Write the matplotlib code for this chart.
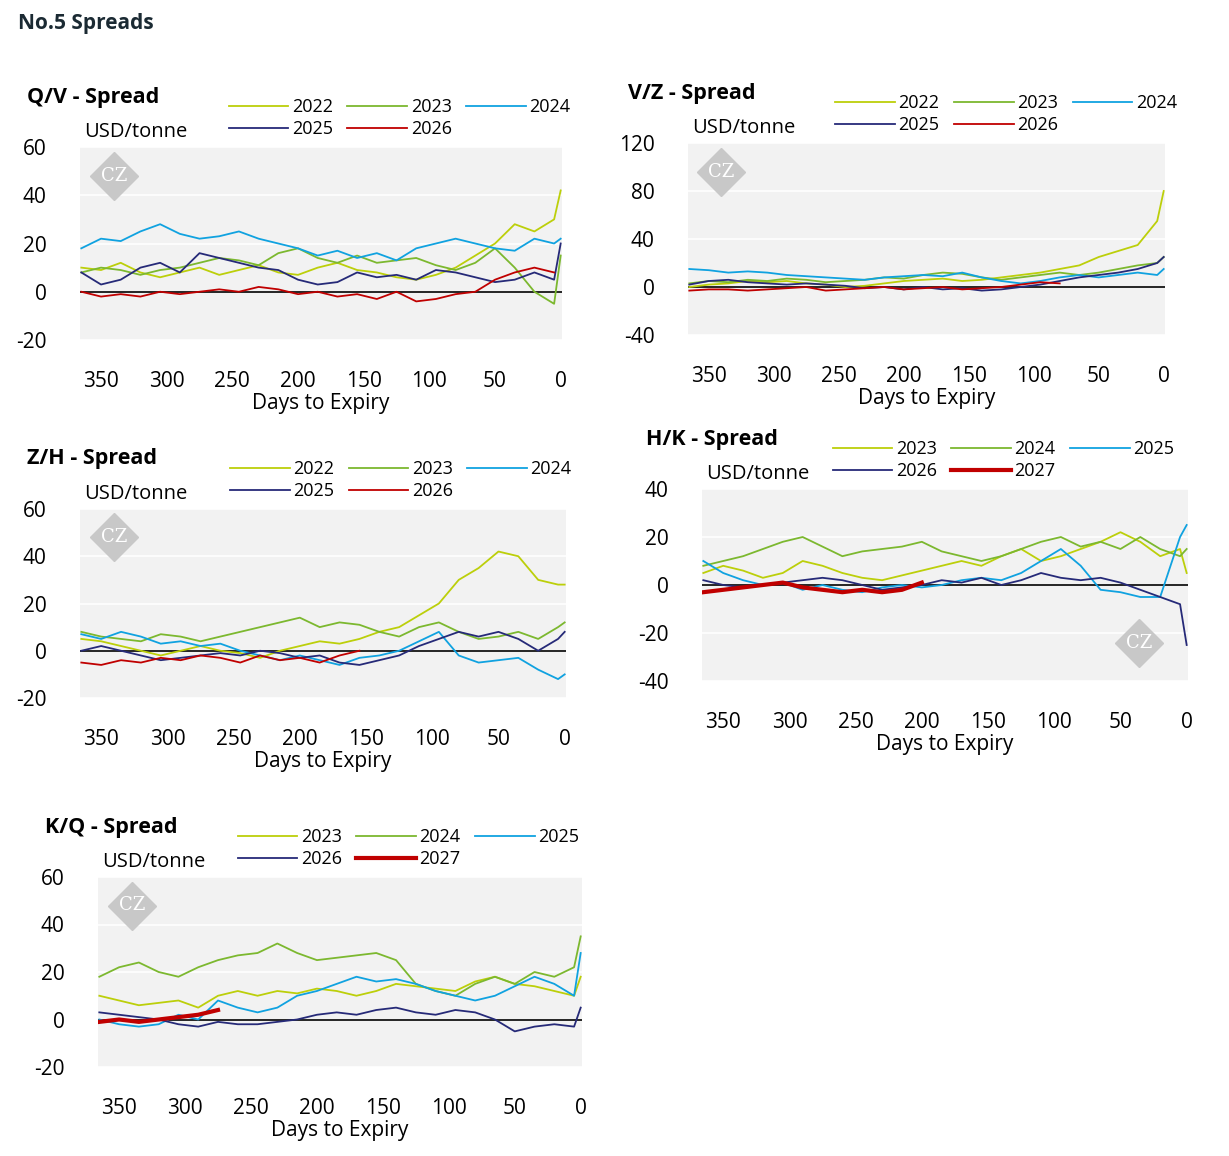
import matplotlib
matplotlib.use("Agg")
from matplotlib import pyplot as plt

plt.rcParams["font.family"] = ["Open Sans", "DejaVu Sans"]
plt.rcParams["axes.unicode_minus"] = False

LIME = "#bccf0a"
GREEN = "#7cb82f"
BLUE = "#10a2e0"
NAVY = "#262a78"
RED = "#c00000"

DAYS = [365, 350, 335, 320, 305, 290, 275, 260, 245, 230, 215, 200, 185,
        170, 155, 140, 125, 110, 95, 80, 65, 50, 35, 20, 5, 0]

# Q/V spread
qv_2022 = [10, 9, 12, 8, 6, 8, 10, 7, 9, 11, 8, 7, 10, 12, 9, 8, 6, 5, 7, 10, 15, 20, 28, 25, 30, 42]
qv_2023 = [8, 10, 9, 7, 9, 10, 12, 14, 13, 11, 16, 18, 14, 12, 15, 12, 13, 14, 11, 9, 12, 18, 10, 0, -5, 15]
qv_2024 = [18, 22, 21, 25, 28, 24, 22, 23, 25, 22, 20, 18, 15, 17, 14, 16, 13, 18, 20, 22, 20, 18, 17, 22, 20, 22]
qv_2025 = [8, 3, 5, 10, 12, 8, 16, 14, 12, 10, 9, 5, 3, 4, 8, 6, 7, 5, 9, 8, 6, 4, 5, 8, 5, 20]
qv_2026 = [0, -2, -1, -2, 0, -1, 0, 1, 0, 2, 1, -1, 0, -2, -1, -3, 0, -4, -3, -1, 0, 5, 8, 10, 8]

# V/Z spread
vz_2022 = [0, 2, 3, 5, 4, 5, 3, 2, 0, 1, 3, 5, 6, 7, 5, 6, 8, 10, 12, 15, 18, 25, 30, 35, 55, 80]
vz_2023 = [3, 5, 4, 6, 5, 7, 6, 4, 5, 6, 8, 7, 10, 12, 11, 8, 6, 8, 10, 12, 10, 12, 15, 18, 20, 25]
vz_2024 = [15, 14, 12, 13, 12, 10, 9, 8, 7, 6, 8, 9, 10, 9, 12, 8, 5, 3, 5, 8, 10, 8, 10, 12, 10, 15]
vz_2025 = [2, 5, 6, 4, 3, 2, 3, 2, 1, -1, 0, -2, 0, -2, -1, -3, -2, 0, 2, 5, 8, 10, 12, 15, 20, 25]
vz_2026 = [-3, -2, -2, -3, -2, -1, 0, -3, -2, -1, 0, -2, -1, 0, -2, -1, 0, 2, 4, 3]

# Z/H spread
zh_2022 = [5, 4, 2, 0, -2, 0, 2, 0, -1, -3, 0, 2, 4, 3, 5, 8, 10, 15, 20, 30, 35, 42, 40, 30, 28, 28]
zh_2023 = [8, 6, 5, 4, 7, 6, 4, 6, 8, 10, 12, 14, 10, 12, 11, 8, 6, 10, 12, 8, 5, 6, 8, 5, 10, 12]
zh_2024 = [7, 5, 8, 6, 3, 4, 2, 3, 0, -2, -4, -2, -4, -6, -3, -2, 0, 4, 8, -2, -5, -4, -3, -8, -12, -10]
zh_2025 = [0, 2, 0, -2, -4, -3, -2, -1, -2, 0, -1, -3, -2, -5, -6, -4, -2, 2, 5, 8, 6, 8, 5, 0, 5, 8]
zh_2026 = [-5, -6, -4, -5, -3, -4, -2, -3, -5, -2, -4, -3, -5, -2, 0]

# H/K spread
hk_2023 = [5, 8, 6, 3, 5, 10, 8, 5, 3, 2, 4, 6, 8, 10, 8, 12, 15, 10, 12, 15, 18, 22, 18, 12, 15, 5]
hk_2024 = [8, 10, 12, 15, 18, 20, 16, 12, 14, 15, 16, 18, 14, 12, 10, 12, 15, 18, 20, 16, 18, 15, 20, 15, 12, 15]
hk_2025 = [10, 5, 2, 0, 1, -2, 0, -2, -3, -1, 0, -1, 0, 2, 3, 2, 5, 10, 15, 8, -2, -3, -5, -5, 20, 25]
hk_2026 = [2, 0, -1, 0, 1, 2, 3, 2, 0, -2, -1, 0, 2, 1, 3, 0, 2, 5, 3, 2, 3, 1, -2, -5, -8, -25]
hk_2027 = [-3, -2, -1, 0, 1, -1, -2, -3, -2, -3, -2, 1]

# K/Q spread
kq_2023 = [10, 8, 6, 7, 8, 5, 10, 12, 10, 12, 11, 13, 12, 10, 12, 15, 14, 13, 12, 16, 18, 15, 14, 12, 10, 18]
kq_2024 = [18, 22, 24, 20, 18, 22, 25, 27, 28, 32, 28, 25, 26, 27, 28, 25, 15, 12, 10, 15, 18, 15, 20, 18, 22, 35]
kq_2025 = [0, -2, -3, -2, 2, 0, 8, 5, 3, 5, 10, 12, 15, 18, 16, 17, 15, 12, 10, 8, 10, 14, 18, 15, 10, 28]
kq_2026 = [3, 2, 1, 0, -2, -3, -1, -2, -2, -1, 0, 2, 3, 2, 4, 5, 3, 2, 4, 3, 0, -5, -3, -2, -3, 5]
kq_2027 = [-1, 0, -1, 0, 1, 2, 4]

W, H = 1229, 1156
fig = plt.figure(figsize=(W / 100, H / 100), dpi=100)
fig.text(18 / W, 1 - 23 / H, "No.5 Spreads", fontsize=15, fontweight="bold",
         color="#1b2a33", va="center")


def panel(box, title, ylim, yticks, series, logo, tx, lx):
    x0, y0, x1, y1 = box
    ax = fig.add_axes([x0 / W, 1 - y1 / H, (x1 - x0) / W, (y1 - y0) / H])
    ax.set_facecolor("#f2f2f2")
    for s in ax.spines.values():
        s.set_visible(False)
    for yt in yticks:
        ax.axhline(yt, color="white", lw=1.2, zorder=0)
    ax.axhline(0, color="black", lw=1.2, zorder=1)
    lines = {}
    for label, vals, color, lw in series:
        lines[label], = ax.plot(DAYS[:len(vals)], vals, color=color, lw=lw, zorder=2)
    ax.set_xlim(366, -1)
    ax.set_ylim(*ylim)
    ax.set_yticks(yticks)
    ax.set_xticks([350, 300, 250, 200, 150, 100, 50, 0])
    ax.tick_params(length=0, labelsize=15)
    ax.tick_params(axis="x", pad=22)
    ax.tick_params(axis="y", pad=24)
    ax.set_xlabel("Days to Expiry", fontsize=15, labelpad=1)
    ax.text(logo[0], logo[1], "CZ", transform=ax.transAxes, ha="center", va="center",
            fontsize=13, color="white", fontfamily="DejaVu Serif", zorder=4)
    ax.plot([logo[0]], [logo[1]], marker="D", ms=24, color="#c8c8c8",
            transform=ax.transAxes, zorder=3)
    fig.text(tx / W, 1 - (y0 - 50) / H, title, fontsize=15.5,
             fontweight="bold", va="center")
    fig.text(x0 / W + 0.003, 1 - (y0 - 15) / H, "USD/tonne", fontsize=14.5, va="center")
    names = [s[0] for s in series]
    order = [names[0], names[3], names[1], names[4], names[2]]
    ax.legend([lines[n] for n in order], order, ncol=3, loc="lower left",
              bbox_to_anchor=(lx, 1.0), frameon=False,
              fontsize=13, handlelength=3.3, handletextpad=0.2, columnspacing=0.8,
              labelspacing=0.2, borderaxespad=0.1)
    return ax


panel((80, 147, 562, 340), "Q/V - Spread", (-20, 60), [-20, 0, 20, 40, 60],
      [("2022", qv_2022, LIME, 1.3), ("2023", qv_2023, GREEN, 1.3),
       ("2024", qv_2024, BLUE, 1.3), ("2025", qv_2025, NAVY, 1.3),
       ("2026", qv_2026, RED, 1.3)], (0.07, 0.85), 27, 0.29)
panel((688, 143, 1165, 335), "V/Z - Spread", (-40, 120), [-40, 0, 40, 80, 120],
      [("2022", vz_2022, LIME, 1.3), ("2023", vz_2023, GREEN, 1.3),
       ("2024", vz_2024, BLUE, 1.3), ("2025", vz_2025, NAVY, 1.3),
       ("2026", vz_2026, RED, 1.3)], (0.07, 0.85), 628, 0.29)
panel((80, 509, 566, 698), "Z/H - Spread", (-20, 60), [-20, 0, 20, 40, 60],
      [("2022", zh_2022, LIME, 1.3), ("2023", zh_2023, GREEN, 1.3),
       ("2024", zh_2024, BLUE, 1.3), ("2025", zh_2025, NAVY, 1.3),
       ("2026", zh_2026, RED, 1.3)], (0.07, 0.85), 27, 0.29)
panel((702, 489, 1188, 681), "H/K - Spread", (-40, 40), [-40, -20, 0, 20, 40],
      [("2023", hk_2023, LIME, 1.3), ("2024", hk_2024, GREEN, 1.3),
       ("2025", hk_2025, BLUE, 1.3), ("2026", hk_2026, NAVY, 1.3),
       ("2027", hk_2027, RED, 3)], (0.9, 0.2), 646, 0.25)
panel((98, 877, 582, 1067), "K/Q - Spread", (-20, 60), [-20, 0, 20, 40, 60],
      [("2023", kq_2023, LIME, 1.3), ("2024", kq_2024, GREEN, 1.3),
       ("2025", kq_2025, BLUE, 1.3), ("2026", kq_2026, NAVY, 1.3),
       ("2027", kq_2027, RED, 3)], (0.07, 0.85), 45, 0.27)

fig.savefig("out.png", dpi=100)
